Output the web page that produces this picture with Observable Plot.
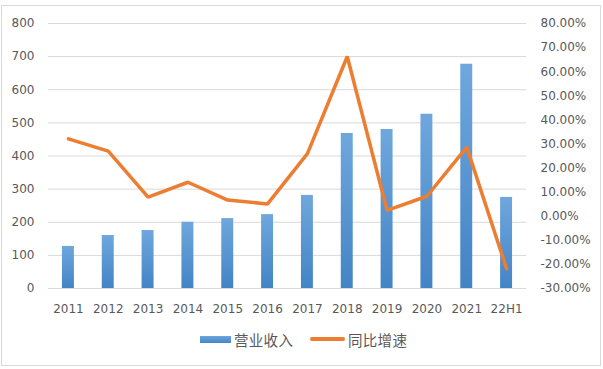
<!DOCTYPE html>
<html>
<head>
<meta charset="utf-8">
<script src="https://cdn.jsdelivr.net/npm/d3@7"></script>
<script src="https://cdn.jsdelivr.net/npm/@observablehq/plot@0.6"></script>
<style>
  html, body { margin: 0; padding: 0; background: #fff; }
  #wrap { position: relative; width: 603px; height: 369px; overflow: hidden; font-family: "DejaVu Sans", sans-serif; }
  #frame { position: absolute; left: 1px; top: 5px; width: 598px; height: 359px; border: 1px solid #d9d9d9; }
  #chart { position: absolute; left: 0; top: 0; }
  .lg { position: absolute; top: 328px; height: 22px; display: flex; align-items: center; font-family: "Noto Sans CJK SC", sans-serif; font-size: 14.5px; color: #595959; letter-spacing: 0.3px; }
  .sw-bar { width: 31px; height: 7px; background: linear-gradient(#6DA5DB, #4586C6); margin-right: 3px; }
  .sw-line { width: 35px; height: 3.5px; background: #ED7D31; margin-right: 3px; border-radius: 2px; }
</style>
</head>
<body>
<div id="wrap">
  <div id="frame"></div>
  <div id="chart"></div>
  <div class="lg" style="left:200px"><div class="sw-bar"></div><span>营业收入</span></div>
  <div class="lg" style="left:310px"><div class="sw-line"></div><span>同比增速</span></div>
</div>
<script>
const categories = ["2011","2012","2013","2014","2015","2016","2017","2018","2019","2020","2021","22H1"];
const revenue = [127, 160, 175, 200, 211, 223, 281, 468, 480, 526, 677, 275];
const growth = [32.1, 27.0, 7.9, 14.1, 6.7, 5.1, 26.0, 66.3, 2.4, 8.3, 28.7, -21.8];
const leftTicks = [0, 100, 200, 300, 400, 500, 600, 700, 800];
const rightTicks = [-30, -20, -10, 0, 10, 20, 30, 40, 50, 60, 70, 80];

const L0 = 0, L1 = 800, R0 = -30, R1 = 80;
const toLeft = p => (p - R0) / (R1 - R0) * (L1 - L0) + L0;
const toRight = v => (v - L0) / (L1 - L0) * (R1 - R0) + R0;

const data = categories.map((c, i) => ({cat: c, rev: revenue[i], g: growth[i], gl: toLeft(growth[i])}));

const textColor = "#595959";
const plot = Plot.plot({
  width: 603,
  height: 320,
  marginLeft: 48,
  marginRight: 77,
  marginTop: 23,
  marginBottom: 32,
  style: {fontFamily: "DejaVu Sans, sans-serif", fontSize: "12px", color: textColor, background: "transparent"},
  x: {domain: categories, paddingInner: 0.7, paddingOuter: 0.35, align: 0.5, round: false},
  y: {domain: [L0, L1]},
  marks: [
    Plot.gridY(leftTicks, {stroke: "#d9d9d9", strokeOpacity: 1, strokeWidth: 1}),
    Plot.axisY(leftTicks, {anchor: "left", tickSize: 0, tickPadding: 14, fill: textColor, label: null}),
    Plot.axisY(rightTicks.map(toLeft), {anchor: "right", tickSize: 0, tickPadding: 14, fill: textColor, label: null,
      tickFormat: v => Math.round(toRight(v)).toFixed(2) + "%", textAnchor: "start"}),
    Plot.axisX({tickSize: 0, tickPadding: 16, fill: textColor, label: null}),
    Plot.barY(data, {x: "cat", y: "rev", fill: "url(#barGrad)"}),
    Plot.line(data, {x: "cat", y: "gl", stroke: "#ED7D31", strokeWidth: 3.5, strokeLinejoin: "miter", strokeLinecap: "round"})
  ]
});

const ns = "http://www.w3.org/2000/svg";
const defs = document.createElementNS(ns, "defs");
const grad = document.createElementNS(ns, "linearGradient");
grad.setAttribute("id", "barGrad");
grad.setAttribute("x1", "0"); grad.setAttribute("y1", "0");
grad.setAttribute("x2", "0"); grad.setAttribute("y2", "1");
[["0%", "#6FA7DD"], ["100%", "#4384C5"]].forEach(([o, c]) => {
  const s = document.createElementNS(ns, "stop");
  s.setAttribute("offset", o); s.setAttribute("stop-color", c);
  grad.appendChild(s);
});
defs.appendChild(grad);
plot.insertBefore(defs, plot.firstChild);
document.getElementById("chart").appendChild(plot);
</script>
</body>
</html>
